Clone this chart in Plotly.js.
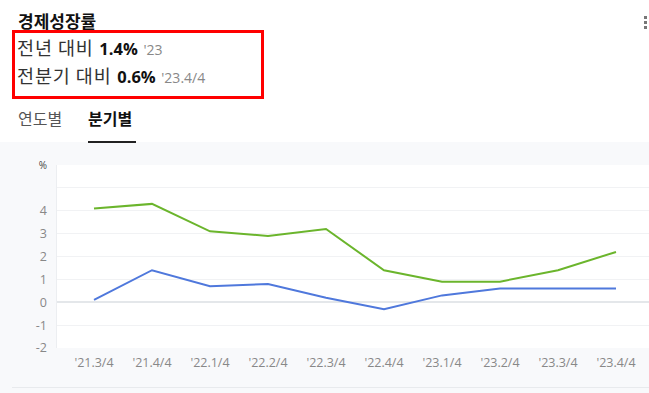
<!DOCTYPE html>
<html>
<head>
<meta charset="utf-8">
<script src="https://cdn.plot.ly/plotly-3.0.1.min.js"></script>
<style>
  html, body { margin:0; padding:0; width:649px; height:393px; overflow:hidden; background:#fff;
    font-family: "Noto Sans CJK KR", "Noto Sans", sans-serif; }
  #panel { position:absolute; left:0; top:142px; width:649px; height:251px; background:#f8f9fb; }
  #chart { position:absolute; left:0; top:142px; width:649px; height:251px; }
  #bottomline { position:absolute; left:12px; top:387px; width:637px; height:1px; background:#e8eaed; }
  .abs { position:absolute; white-space:nowrap; }
  #title { left:18px; top:8px; font-size:17px; font-weight:bold; color:#111; }
  #box { left:12px; top:30px; width:246px; height:63px; border:3px solid #ff0000; }
  .lbl { font-size:18.5px; color:#333; letter-spacing:0.9px; }
  .val { font-size:16.5px; font-weight:bold; color:#111; font-family:"Open Sans","Noto Sans",sans-serif; margin-left:2px; }
  .dt { font-size:14px; color:#888; font-family:"Open Sans","Noto Sans",sans-serif; margin-left:2px; }
  #tab1 { left:18px; top:106px; font-size:16px; color:#555; }
  #tab2 { left:88px; top:106px; font-size:16px; font-weight:bold; color:#111; }
  #tabline { left:88px; top:141px; width:48px; height:1.5px; background:#222; }
  .dot { position:absolute; width:3px; height:3px; background:#777; left:644px; }
</style>
</head>
<body>
<div id="panel"></div>
<div id="chart"></div>
<div id="bottomline"></div>
<div class="abs" id="title">경제성장률</div>
<div class="abs" id="box"></div>
<div class="abs" style="left:17px;top:34px;"><span class="lbl">전년 대비</span> <span class="val">1.4%</span> <span class="dt">'23</span></div>
<div class="abs" style="left:17px;top:62px;"><span class="lbl">전분기 대비</span> <span class="val">0.6%</span> <span class="dt">'23.4/4</span></div>
<div class="abs" id="tab1">연도별</div>
<div class="abs" id="tab2">분기별</div>
<div class="abs" id="tabline"></div>
<div class="dot" style="top:16px"></div>
<div class="dot" style="top:21px"></div>
<div class="dot" style="top:26px"></div>
<script>
const quarters = ["'21.3/4", "'21.4/4", "'22.1/4", "'22.2/4", "'22.3/4", "'22.4/4", "'23.1/4", "'23.2/4", "'23.3/4", "'23.4/4"];
const yoyGrowth = [4.1, 4.3, 3.1, 2.9, 3.2, 1.4, 0.9, 0.9, 1.4, 2.2];
const qoqGrowth = [0.1, 1.4, 0.7, 0.8, 0.2, -0.3, 0.3, 0.6, 0.6, 0.6];
const yTickVals = [-2, -1, 0, 1, 2, 3, 4, 5, 6];
const yTickText = ["-2", "-1", "0", "1", "2", "3", "4", "", "<span style='font-size:10px;color:#444'>%</span>"];

const idx = quarters.map((q, i) => i);
const traces = [
  { x: idx, y: yoyGrowth, type: 'scatter', mode: 'lines', name: '전년 대비',
    line: { color: '#6bb52c', width: 2 }, hoverinfo: 'skip' },
  { x: idx, y: qoqGrowth, type: 'scatter', mode: 'lines', name: '전분기 대비',
    line: { color: '#4f78dc', width: 2 }, hoverinfo: 'skip' }
];
const layout = {
  width: 649, height: 251,
  margin: { l: 57, r: 0, t: 23, b: 45 },
  paper_bgcolor: 'rgba(0,0,0,0)',
  plot_bgcolor: '#ffffff',
  showlegend: false,
  font: { family: '"Open Sans", "Noto Sans", sans-serif', color: '#888', size: 12.5 },
  xaxis: {
    range: [-0.638, 9.569], tickvals: idx, ticktext: quarters,
    showgrid: false, zeroline: false, showline: false, ticks: '',
    ticklabelstandoff: 5, fixedrange: true
  },
  yaxis: {
    range: [-2, 6], tickvals: yTickVals, ticktext: yTickText,
    showgrid: true, gridcolor: '#f1f2f4', gridwidth: 1,
    zeroline: true, zerolinecolor: '#e4e7ea', zerolinewidth: 2,
    showline: true, linecolor: '#eceef1', linewidth: 1.5,
    ticks: '', ticklabelstandoff: 6, fixedrange: true
  }
};
Plotly.newPlot('chart', traces, layout, { displayModeBar: false, staticPlot: true });
</script>
</body>
</html>
